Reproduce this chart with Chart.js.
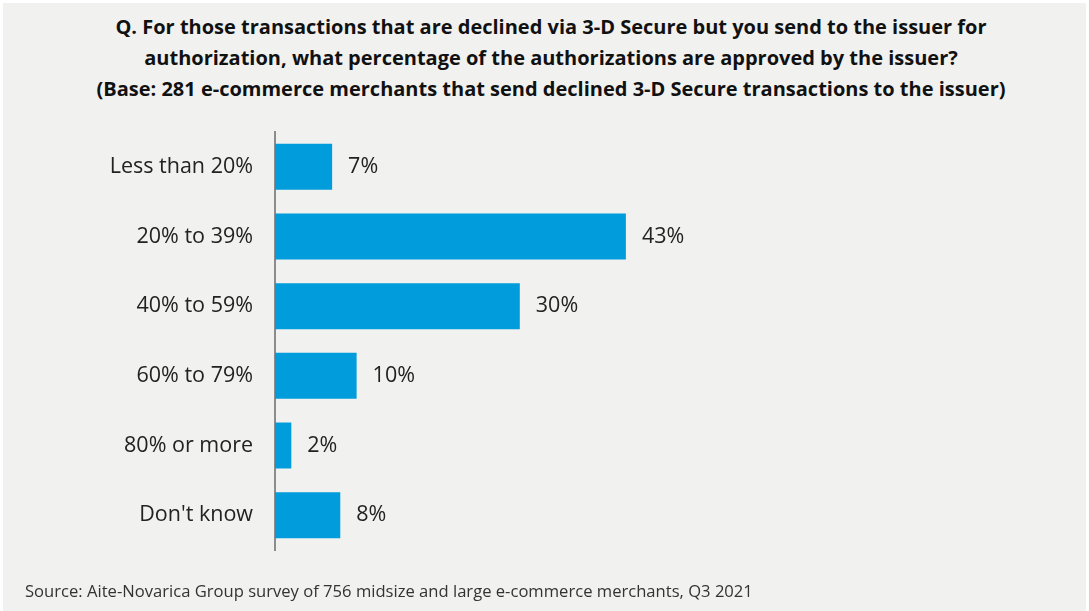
<!DOCTYPE html>
<html>
<head>
<meta charset="utf-8">
<script src="https://cdn.jsdelivr.net/npm/chart.js@4/dist/chart.umd.min.js"></script>
<style>
  body { margin: 0; background: #fff; }
  #panel { position: absolute; left: 3px; top: 3px; width: 1083px; height: 608px; background: #f1f1f0; font-family: "Open Sans", sans-serif; }
  #title { position: absolute; left: 0; top: 8px; width: 1096px; text-align: center; font-weight: bold; font-size: 20px; line-height: 31px; color: #111; }
  #source { position: absolute; left: 22px; top: 576px; font-size: 16.6px; color: #333; }
  #chartBox { position: absolute; left: 0; top: 0; width: 1083px; height: 608px; }
</style>
</head>
<body>
<div id="panel">
  <div id="title">Q. For those transactions that are declined via 3-D Secure but you send to the issuer for<br>authorization, what percentage of the authorizations are approved by the issuer?<br>(Base: 281 e-commerce merchants that send declined 3-D Secure transactions to the issuer)</div>
  <div id="chartBox"><canvas id="approvalChart"></canvas></div>
  <div id="source">Source: Aite-Novarica Group survey of 756 midsize and large e-commerce merchants, Q3 2021</div>
</div>
<script>
const categories = ['Less than 20%', '20% to 39%', '40% to 59%', '60% to 79%', '80% or more', "Don't know"];
const shares = [7, 43, 30, 10, 2, 8];

// writes "n%" just past the end of each bar
const valueLabels = {
    id: 'valueLabels',
    afterDatasetsDraw(chart) {
        const ctx = chart.ctx;
        const meta = chart.getDatasetMeta(0);
        ctx.save();
        ctx.font = '21.5px "Open Sans", sans-serif';
        ctx.fillStyle = '#222';
        ctx.textAlign = 'left';
        ctx.textBaseline = 'middle';
        meta.data.forEach((bar, i) => {
            ctx.fillText(shares[i] + '%', bar.x + 16, bar.y);
        });
        ctx.restore();
    }
};

const approvalChart = new Chart(document.getElementById('approvalChart'), {
    type: 'bar',
    data: {
        labels: categories,
        datasets: [{
            data: shares,
            backgroundColor: '#009cdb',
            borderWidth: 0,
            barPercentage: 0.66,
            categoryPercentage: 1
        }]
    },
    options: {
        indexAxis: 'y',
        responsive: true,
        maintainAspectRatio: false,
        animation: false,
        layout: { padding: { top: 129, bottom: 61, left: 0, right: 403 } },
        plugins: {
            legend: { display: false },
            tooltip: { enabled: false }
        },
        scales: {
            x: { display: false, min: 0, max: 50 },
            y: {
                afterFit(scale) { scale.width = 272; },
                grid: { display: false, drawTicks: false },
                border: { display: true, color: '#8c8c8c', width: 2 },
                ticks: { color: '#222', padding: 22, font: { family: '"Open Sans"', size: 21.5 } }
            }
        }
    },
    plugins: [valueLabels]
});
</script>
</body>
</html>
